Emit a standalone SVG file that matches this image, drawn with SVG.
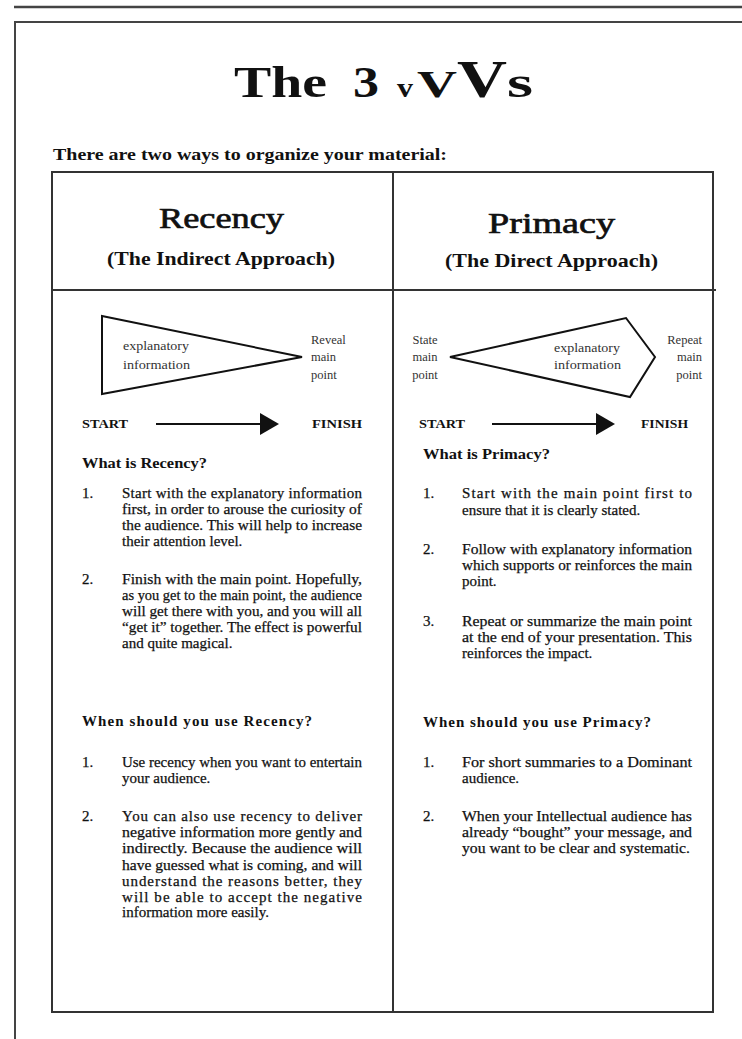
<svg xmlns="http://www.w3.org/2000/svg" width="742" height="1039" viewBox="0 0 742 1039">
<style>
text{font-family:"Liberation Serif","Times New Roman",serif;fill:#111}
.ttl{font-weight:bold}
.intro{font-size:16px;font-weight:bold}
.hd{font-size:30px;text-anchor:middle;stroke:#111;stroke-width:0.7}
.sub{font-size:19px;font-weight:bold;text-anchor:middle}
.lbl{font-size:12.5px;fill:#333}
.se{font-size:12px;font-weight:bold}
.q{font-size:15px;font-weight:bold}
.b{font-size:15px;stroke:#111;stroke-width:0.25}
.frame{fill:none;stroke:#333;stroke-width:2}
.shape{fill:none;stroke:#111;stroke-width:2;stroke-linejoin:miter}
.arr{stroke:#111;stroke-width:2}
.head{fill:#111}
</style>
<rect x="0" y="0" width="742" height="1039" fill="#fff"/>
<g id="page-frame">
<line x1="14" y1="7" x2="742" y2="7" stroke="#444" stroke-width="2.5"/>
<polyline points="15,1039 15,22 742,22" fill="none" stroke="#444" stroke-width="2"/>
</g>
<g id="title">
<text class="ttl" x="234" y="97" font-size="44" textLength="93" lengthAdjust="spacingAndGlyphs">The</text>
<text class="ttl" x="353" y="97" font-size="44" textLength="26" lengthAdjust="spacingAndGlyphs">3</text>
<text class="ttl" x="397" y="97" font-size="28" textLength="16" lengthAdjust="spacingAndGlyphs">v</text>
<text class="ttl" x="417" y="97" font-size="38" textLength="40" lengthAdjust="spacingAndGlyphs">V</text>
<text class="ttl" x="457" y="97" font-size="53" textLength="50" lengthAdjust="spacingAndGlyphs">V</text>
<text class="ttl" x="507" y="97" font-size="44" textLength="26" lengthAdjust="spacingAndGlyphs">s</text>
</g>
<g id="intro">
<text class="intro" x="53" y="160" textLength="394" lengthAdjust="spacingAndGlyphs">There are two ways to organize your material:</text>
</g>
<g id="table">
<rect class="frame" x="52" y="172" width="661" height="840"/>
<line class="frame" x1="52" y1="290" x2="716" y2="290"/>
<line class="frame" x1="393" y1="172" x2="393" y2="1012"/>
</g>
<g id="recency-header">
<text class="hd" x="221.5" y="228" textLength="125" lengthAdjust="spacingAndGlyphs">Recency</text>
<text class="sub" x="221" y="265" textLength="228" lengthAdjust="spacingAndGlyphs">(The Indirect Approach)</text>
</g>
<g id="primacy-header">
<text class="hd" x="551.5" y="233" textLength="127" lengthAdjust="spacingAndGlyphs">Primacy</text>
<text class="sub" x="551.5" y="267" textLength="213" lengthAdjust="spacingAndGlyphs">(The Direct Approach)</text>
</g>
<g id="recency-diagram">
<polygon class="shape" points="102,316 302,357 102,394"/>
<text class="lbl" x="123" y="350" textLength="66" lengthAdjust="spacingAndGlyphs">explanatory</text>
<text class="lbl" x="123" y="369" textLength="67" lengthAdjust="spacingAndGlyphs">information</text>
<text class="lbl" x="311" y="344">Reveal</text>
<text class="lbl" x="311" y="361">main</text>
<text class="lbl" x="311" y="379">point</text>
<text class="se" x="82" y="428" textLength="46" lengthAdjust="spacingAndGlyphs">START</text>
<text class="se" x="312" y="428" textLength="50" lengthAdjust="spacingAndGlyphs">FINISH</text>
</g>
<g id="primacy-diagram">
<polygon class="shape" points="450,357 626,318 655,357 630,397"/>
<text class="lbl" x="425" y="344" text-anchor="middle">State</text>
<text class="lbl" x="425" y="361" text-anchor="middle">main</text>
<text class="lbl" x="425" y="379" text-anchor="middle">point</text>
<text class="lbl" x="554" y="352" textLength="66" lengthAdjust="spacingAndGlyphs">explanatory</text>
<text class="lbl" x="554" y="369" textLength="67" lengthAdjust="spacingAndGlyphs">information</text>
<text class="lbl" x="702" y="344" text-anchor="end">Repeat</text>
<text class="lbl" x="702" y="361" text-anchor="end">main</text>
<text class="lbl" x="702" y="379" text-anchor="end">point</text>
<text class="se" x="419" y="428" textLength="46" lengthAdjust="spacingAndGlyphs">START</text>
<text class="se" x="641" y="428" textLength="47" lengthAdjust="spacingAndGlyphs">FINISH</text>
</g>
<g id="connectors">
<line class="arr" x1="156" y1="424" x2="262" y2="424"/>
<polygon class="head" points="260,413 279,424 260,435"/>
<line class="arr" x1="492" y1="424" x2="598" y2="424"/>
<polygon class="head" points="596,413 615,424 596,435"/>
</g>
<g id="recency-text">
<text class="q" x="82" y="468" textLength="125" lengthAdjust="spacingAndGlyphs">What is Recency?</text>
<text class="b" x="82" y="498">1.</text>
<text class="b" x="122" y="498" textLength="240">Start with the explanatory information</text>
<text class="b" x="122" y="514" textLength="240" lengthAdjust="spacingAndGlyphs">first, in order to arouse the curiosity of</text>
<text class="b" x="122" y="530" textLength="240" lengthAdjust="spacingAndGlyphs">the audience. This will help to increase</text>
<text class="b" x="122" y="546">their attention level.</text>
<text class="b" x="82" y="584">2.</text>
<text class="b" x="122" y="584" textLength="240" lengthAdjust="spacingAndGlyphs">Finish with the main point.  Hopefully,</text>
<text class="b" x="122" y="600" textLength="240" lengthAdjust="spacingAndGlyphs">as you get to the main point, the audience</text>
<text class="b" x="122" y="616" textLength="240" lengthAdjust="spacingAndGlyphs">will get there with you, and you will all</text>
<text class="b" x="122" y="632" textLength="240" lengthAdjust="spacingAndGlyphs">“get it” together. The effect is powerful</text>
<text class="b" x="122" y="648">and quite magical.</text>
<text class="q" x="82" y="726" textLength="230" lengthAdjust="spacing">When should you use Recency?</text>
<text class="b" x="82" y="767">1.</text>
<text class="b" x="122" y="767" textLength="240" lengthAdjust="spacingAndGlyphs">Use recency when you want to entertain</text>
<text class="b" x="122" y="783">your audience.</text>
<text class="b" x="82" y="821">2.</text>
<text class="b" x="122" y="821" textLength="240">You can also use recency to deliver</text>
<text class="b" x="122" y="837" textLength="240" lengthAdjust="spacingAndGlyphs">negative information more gently and</text>
<text class="b" x="122" y="853" textLength="240" lengthAdjust="spacingAndGlyphs">indirectly. Because the audience will</text>
<text class="b" x="122" y="870" textLength="240" lengthAdjust="spacingAndGlyphs">have guessed what is coming, and will</text>
<text class="b" x="122" y="886" textLength="240">understand the reasons better, they</text>
<text class="b" x="122" y="902" textLength="240">will be able to accept the negative</text>
<text class="b" x="122" y="917">information more easily.</text>
</g>
<g id="primacy-text">
<text class="q" x="423" y="459" textLength="127" lengthAdjust="spacingAndGlyphs">What is Primacy?</text>
<text class="b" x="423" y="498">1.</text>
<text class="b" x="462" y="498" textLength="230">Start with the main point first to</text>
<text class="b" x="462" y="515">ensure that it is clearly stated.</text>
<text class="b" x="423" y="554">2.</text>
<text class="b" x="462" y="554" textLength="230" lengthAdjust="spacingAndGlyphs">Follow with explanatory information</text>
<text class="b" x="462" y="570" textLength="230" lengthAdjust="spacingAndGlyphs">which supports or reinforces the main</text>
<text class="b" x="462" y="586">point.</text>
<text class="b" x="423" y="626">3.</text>
<text class="b" x="462" y="626" textLength="230" lengthAdjust="spacingAndGlyphs">Repeat or summarize the main point</text>
<text class="b" x="462" y="642" textLength="230" lengthAdjust="spacingAndGlyphs">at the end of your presentation. This</text>
<text class="b" x="462" y="658">reinforces the impact.</text>
<text class="q" x="423" y="727" textLength="228" lengthAdjust="spacing">When should you use Primacy?</text>
<text class="b" x="423" y="767">1.</text>
<text class="b" x="462" y="767" textLength="230" lengthAdjust="spacingAndGlyphs">For short summaries to a Dominant</text>
<text class="b" x="462" y="783">audience.</text>
<text class="b" x="423" y="821">2.</text>
<text class="b" x="462" y="821" textLength="230" lengthAdjust="spacingAndGlyphs">When your Intellectual audience has</text>
<text class="b" x="462" y="837" textLength="230" lengthAdjust="spacingAndGlyphs">already “bought” your message, and</text>
<text class="b" x="462" y="853" textLength="228" lengthAdjust="spacingAndGlyphs">you want to be clear and systematic.</text>
</g>
</svg>
